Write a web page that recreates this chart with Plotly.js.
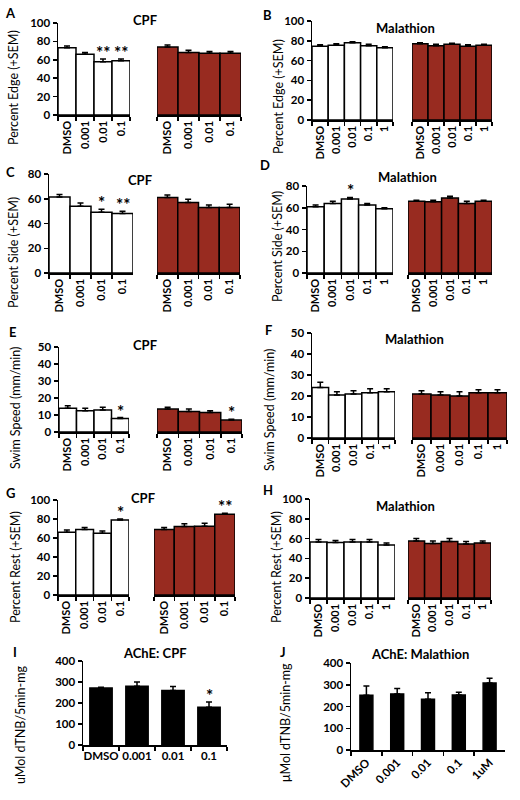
<!DOCTYPE html>
<html><head><meta charset="utf-8">
<script src="https://cdn.plot.ly/plotly-3.0.1.min.js"></script>
<style>html,body{margin:0;padding:0;background:#fff}</style>
</head><body>
<div id="chart" style="width:520px;height:800px"></div>
<script>
// ---------- DATA ----------
const cpfDoses = ["DMSO", "0.001", "0.01", "0.1"];
const malDoses = ["DMSO", "0.001", "0.01", "0.1", "1"];
const acheMalLabels = ["DMSO", "0.001", "0.01", "0.1", "1uM"];

// A: Percent Edge, CPF
const edgeCpfWhite = [73, 66, 58, 59];
const edgeCpfWhiteErr = [2, 2, 3, 2];
const edgeCpfWhiteSig = ["", "", "**", "**"];
const edgeCpfRed = [74, 68, 67, 67];
const edgeCpfRedErr = [2, 2.5, 2, 2];
const edgeCpfRedSig = ["", "", "", ""];
// B: Percent Edge, Malathion
const edgeMalWhite = [74.5, 75.5, 78, 75, 73];
const edgeMalWhiteErr = [1.5, 1.5, 1, 1.5, 1];
const edgeMalWhiteSig = ["", "", "", "", ""];
const edgeMalRed = [77, 75, 76.5, 74.5, 75.5];
const edgeMalRedErr = [1, 1.5, 1, 1.5, 1];
const edgeMalRedSig = ["", "", "", "", ""];
// C: Percent Side, CPF
const sideCpfWhite = [61.5, 54, 49, 48];
const sideCpfWhiteErr = [2, 2.5, 2.5, 2];
const sideCpfWhiteSig = ["", "", "*", "**"];
const sideCpfRed = [61, 57, 53, 53];
const sideCpfRedErr = [2, 2.5, 2, 2.5];
const sideCpfRedSig = ["", "", "", ""];
// D: Percent Side, Malathion
const sideMalWhite = [61, 64, 68, 62.5, 59];
const sideMalWhiteErr = [1.5, 2, 1.5, 1.5, 1];
const sideMalWhiteSig = ["", "", "*", "", ""];
const sideMalRed = [66, 65.5, 69, 64, 66];
const sideMalRedErr = [1, 1.5, 1.5, 2, 1];
const sideMalRedSig = ["", "", "", "", ""];
// E: Swim Speed, CPF
const speedCpfWhite = [14, 12.5, 13, 8];
const speedCpfWhiteErr = [1.5, 1.5, 1.5, 0.5];
const speedCpfWhiteSig = ["", "", "", "*"];
const speedCpfRed = [13.5, 12, 11.5, 7];
const speedCpfRedErr = [1, 1.5, 1, 0.5];
const speedCpfRedSig = ["", "", "", "*"];
// F: Swim Speed, Malathion
const speedMalWhite = [24, 20.5, 21, 21.5, 22];
const speedMalWhiteErr = [2.5, 1.5, 1.5, 2, 1.5];
const speedMalWhiteSig = ["", "", "", "", ""];
const speedMalRed = [21, 20.5, 20, 21.5, 21.5];
const speedMalRedErr = [1.5, 1.5, 2, 1.5, 1.5];
const speedMalRedSig = ["", "", "", "", ""];
// G: Percent Rest, CPF
const restCpfWhite = [66, 69, 65, 79];
const restCpfWhiteErr = [2.5, 2, 2.5, 1];
const restCpfWhiteSig = ["", "", "", "*"];
const restCpfRed = [69, 72, 72.5, 85];
const restCpfRedErr = [2, 3, 3, 1];
const restCpfRedSig = ["", "", "", "**"];
// H: Percent Rest, Malathion
const restMalWhite = [56.5, 56, 56.5, 56.5, 53.5];
const restMalWhiteErr = [2.5, 2, 2.5, 2.5, 2];
const restMalWhiteSig = ["", "", "", "", ""];
const restMalRed = [57.5, 55, 57, 54.5, 55.5];
const restMalRedErr = [2.5, 2.5, 3, 2.5, 2];
const restMalRedSig = ["", "", "", "", ""];
// I: AChE CPF
const acheCpf = [272, 280, 260, 180];
const acheCpfErr = [3, 20, 18, 25];
const acheCpfSig = ["", "", "", "*"];
// J: AChE Malathion
const acheMal = [252, 258, 233, 253, 308];
const acheMalErr = [42, 25, 30, 13, 22];
const acheMalSig = ["", "", "", "", ""];

// ---------- LAYOUT HELPERS ----------
const W = 520, H = 800;
const px = v => v / W;
const py = v => 1 - v / H;
const RED = "#982b20";
const FONT = "Lato, 'Open Sans', sans-serif";

const panels = [
  {L:"A", title:"CPF", ylab:"Percent Edge (+SEM)", yr:[0,100], dt:20, cats:cpfDoses,
   w:[edgeCpfWhite, edgeCpfWhiteErr, edgeCpfWhiteSig], r:[edgeCpfRed, edgeCpfRedErr, edgeCpfRedSig],
   yd:[23,115], xw:[58,130], xr:[157,241], tpos:[145,20], lpos:[10,13], ypos:[14,88]},
  {L:"B", title:"Malathion", ylab:"Percent Edge (+SEM)", yr:[0,100], dt:20, cats:malDoses,
   w:[edgeMalWhite, edgeMalWhiteErr, edgeMalWhiteSig], r:[edgeMalRed, edgeMalRedErr, edgeMalRedSig],
   yd:[21,120], xw:[312,393], xr:[412,492], tpos:[405,28], lpos:[267,15], ypos:[279,97]},
  {L:"C", title:"CPF", ylab:"Percent Side (+SEM)", yr:[0,80], dt:20, cats:cpfDoses,
   w:[sideCpfWhite, sideCpfWhiteErr, sideCpfWhiteSig], r:[sideCpfRed, sideCpfRedErr, sideCpfRedSig],
   yd:[174,273], xw:[49,133], xr:[157,240], tpos:[140,180], lpos:[10,172], ypos:[14,253]},
  {L:"D", title:"Malathion", ylab:"Percent Side (+SEM)", yr:[0,80], dt:20, cats:malDoses,
   w:[sideMalWhite, sideMalWhiteErr, sideMalWhiteSig], r:[sideMalRed, sideMalRedErr, sideMalRedSig],
   yd:[186,273], xw:[307,393], xr:[408,492], tpos:[407,177], lpos:[265,165], ypos:[277,247]},
  {L:"E", title:"CPF", ylab:"Swim Speed (mm/min)", yr:[0,50], dt:10, cats:cpfDoses,
   w:[speedCpfWhite, speedCpfWhiteErr, speedCpfWhiteSig], r:[speedCpfRed, speedCpfRedErr, speedCpfRedSig],
   yd:[347,432], xw:[59,129], xr:[157,242], tpos:[145,345], lpos:[12,332], ypos:[15,408]},
  {L:"F", title:"Malathion", ylab:"Swim Speed (mm/min)", yr:[0,50], dt:10, cats:malDoses,
   w:[speedMalWhite, speedMalWhiteErr, speedMalWhiteSig], r:[speedMalRed, speedMalRedErr, speedMalRedSig],
   yd:[333,438], xw:[312,395], xr:[412,507], tpos:[414,339], lpos:[268,330], ypos:[270,410]},
  {L:"G", title:"CPF", ylab:"Percent Rest (+SEM)", yr:[0,100], dt:20, cats:cpfDoses,
   w:[restCpfWhite, restCpfWhiteErr, restCpfWhiteSig], r:[restCpfRed, restCpfRedErr, restCpfRedSig],
   yd:[500,595], xw:[58,129], xr:[154,235], tpos:[143,498], lpos:[10,493], ypos:[15,567]},
  {L:"H", title:"Malathion", ylab:"Percent Rest (+SEM)", yr:[0,100], dt:20, cats:malDoses,
   w:[restMalWhite, restMalWhiteErr, restMalWhiteSig], r:[restMalRed, restMalRedErr, restMalRedSig],
   yd:[499,598], xw:[310,395], xr:[408,491], tpos:[405,506], lpos:[268,490], ypos:[276,567]}
];

const traces = [];
const annotations = [];
const layout = {
  width: W, height: H, margin:{l:0,r:0,t:0,b:0}, showlegend:false,
  paper_bgcolor:"#fff", plot_bgcolor:"rgba(0,0,0,0)",
  font:{family:FONT, color:"#000"}, bargap:0
};

function yAxis(dom, yr, dt, xname){
  return {domain:[py(dom[1]), py(dom[0])], anchor:xname, range:yr, dtick:dt, tick0:0, showgrid:false, zeroline:false,
    showline:true, linecolor:"#000", linewidth:1.5, ticks:"outside", ticklen:4, tickwidth:1.5, tickcolor:"#000",
    tickfont:{family:FONT, size:11.5, color:"#000", weight:"bold"}, fixedrange:true};
}
function xAxis(dom, n, yname, angle, fs){
  return {domain:[px(dom[0]), px(dom[1])], anchor:yname, type:"category", range:[-0.5, n-0.5],
    showgrid:false, zeroline:false, showline:true, linecolor:"#000", linewidth:1.5,
    ticks:"outside", ticklen:4, tickwidth:1.5, tickcolor:"#000", tickson:"boundaries",
    tickangle:angle, tickfont:{family:FONT, size:fs, color:"#000", weight:"bold"}, fixedrange:true};
}
function addBars(cats, vals, errs, sigs, xa, ya, fill, width){
  traces.push({type:"bar", x:cats, y:vals, xaxis:xa, yaxis:ya, width:width,
    marker:{color:fill, line:{color:"#000", width:1.5}},
    error_y:{type:"data", symmetric:false, array:errs, arrayminus:vals.map(()=>0),
      color:"#000", thickness:1.5, width:3},
    hoverinfo:"x+y"});
  cats.forEach((c,i)=>{
    if(sigs[i]) annotations.push({xref:xa, yref:ya, x:i, y:vals[i]+errs[i], text:sigs[i],
      showarrow:false, yanchor:"bottom", yshift:-6, font:{family:FONT, size:17, color:"#000", weight:"bold"}});
  });
}
function addText(txt, pos, size, angle, weight){
  annotations.push({xref:"paper", yref:"paper", x:px(pos[0]), y:py(pos[1]), text:txt, showarrow:false,
    xanchor:"center", yanchor:"middle", textangle:angle||0,
    font:{family:FONT, size:size, color:"#000", weight:weight||"bold"}});
}

let ai = 1, xi = 1;
panels.forEach(p=>{
  const yname = "y" + (ai===1 ? "" : ai);
  const xw = "x" + (xi===1 ? "" : xi);
  layout["yaxis" + (ai===1 ? "" : ai)] = yAxis(p.yd, p.yr, p.dt, xw);
  layout["xaxis" + (xi===1 ? "" : xi)] = xAxis(p.xw, p.cats.length, yname, -90, 11);
  xi++;
  const xr = "x" + xi;
  layout["xaxis" + xi] = xAxis(p.xr, p.cats.length, yname, -90, 11);
  xi++;
  addBars(p.cats, p.w[0], p.w[1], p.w[2], xw, yname, "#ffffff", 1);
  addBars(p.cats, p.r[0], p.r[1], p.r[2], xr, yname, RED, 1);
  addText(p.title, p.tpos, 13);
  addText(p.L, p.lpos, 13);
  addText(p.ylab, p.ypos, 12.5, -90, "normal");
  ai++;
});

// I panel
layout["yaxis" + ai] = yAxis([661,745], [0,400], 100, "x"+xi);
layout["xaxis" + xi] = xAxis([83,227], cpfDoses.length, "y"+ai, 0, 11.5);
addBars(cpfDoses, acheCpf, acheCpfErr, acheCpfSig, "x"+xi, "y"+ai, "#000", 0.62);
addText("AChE: CPF", [155,653], 13);
addText("I", [15,652], 13);
addText("uMol dTNB/5min-mg", [20,725], 12.5, -90, "normal");
ai++; xi++;
// J panel
layout["yaxis" + ai] = yAxis([663,750], [0,400], 100, "x"+xi);
layout["xaxis" + xi] = xAxis([351,505], acheMalLabels.length, "y"+ai, -45, 11.5);
addBars(acheMalLabels, acheMal, acheMalErr, acheMalSig, "x"+xi, "y"+ai, "#000", 0.42);
addText("AChE: Malathion", [420,654], 13);
addText("J", [283,652], 13);
addText("μMol dTNB/5min-mg", [285,723], 12.5, -90, "normal");

layout.annotations = annotations;
Plotly.newPlot("chart", traces, layout, {staticPlot:true, displayModeBar:false});
</script>
</body></html>
